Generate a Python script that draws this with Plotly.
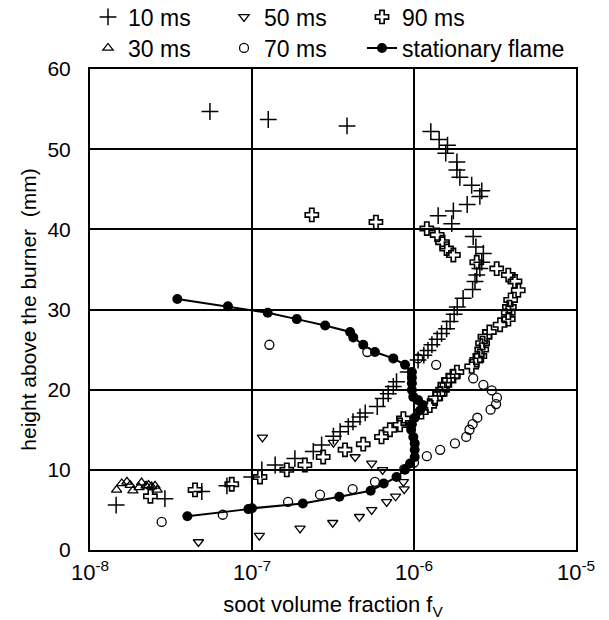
import plotly.graph_objects as go

# ---- data (soot volume fraction, height above burner in mm) ----
fv_10 = [1.45e-8, 2.9e-8, 4.9e-8, 7.0e-8, 9.95e-8, 1.15e-7, 1.39e-7, 1.84e-7, 2.39e-7, 2.69e-7,
         3.18e-7, 3.5e-7, 3.93e-7, 4.2e-7, 4.64e-7, 5.0e-7, 5.93e-7, 6.46e-7, 6.93e-7, 7.45e-7,
         7.8e-7, 9.2e-7, 1.06e-6, 1.15e-6, 1.22e-6, 1.29e-6, 1.39e-6, 1.48e-6, 1.59e-6, 1.67e-6,
         1.77e-6, 1.85e-6, 2.01e-6, 2.3e-6, 2.38e-6, 2.44e-6, 2.55e-6, 2.62e-6, 2.68e-6, 2.41e-6,
         2.32e-6, 1.71e-6, 1.41e-6, 1.75e-6, 2.13e-6, 2.55e-6, 2.62e-6, 2.27e-6, 1.92e-6, 1.84e-6,
         1.84e-6, 1.57e-6, 1.61e-6, 1.43e-6, 1.27e-6, 3.86e-7, 1.26e-7, 5.5e-8]
h_10 = [5.6, 6.4, 7.3, 8.0, 9.1, 10.0, 10.6, 11.4, 12.3, 13.1,
        14.2, 14.75, 15.4, 16.0, 16.6, 17.1, 17.9, 18.9, 19.5, 20.4,
        21.0, 22.2, 23.7, 24.3, 24.9, 25.6, 26.3, 27.0, 27.6, 28.5,
        29.4, 30.3, 31.4, 32.5, 33.5, 34.3, 35.1, 35.9, 37.0, 37.8,
        39.1, 40.7, 41.7, 42.3, 43.1, 44.1, 44.8, 45.5, 46.5, 47.4,
        48.4, 49.5, 50.5, 51.2, 52.2, 52.9, 53.7, 54.7]

fv_30 = [1.46e-8, 1.57e-8, 1.69e-8, 1.77e-8, 1.84e-8, 2.01e-8, 2.08e-8, 2.22e-8, 2.3e-8, 2.4e-8, 2.52e-8, 2.6e-8]
h_30 = [7.5, 8.3, 8.5, 8.1, 7.4, 7.8, 8.4, 8.0, 8.1, 7.9, 8.0, 7.5]

fv_50 = [4.67e-8, 1.11e-7, 1.98e-7, 3.15e-7, 4.6e-7, 5.48e-7, 6.78e-7, 7.7e-7, 8.7e-7, 8.6e-7,
         6.4e-7, 5.48e-7, 4.33e-7, 3.18e-7, 1.16e-7]
h_50 = [1.0, 1.8, 2.7, 3.4, 4.15, 5.0, 6.0, 6.7, 7.6, 8.5,
        10.0, 10.8, 11.6, 13.4, 14.05]

fv_70 = [2.77e-8, 6.6e-8, 1.67e-7, 2.63e-7, 4.18e-7, 5.74e-7, 8.7e-7, 1.0e-6, 1.2e-6, 1.45e-6,
         1.79e-6, 2.1e-6, 2.2e-6, 2.3e-6, 2.46e-6, 2.97e-6, 3.21e-6, 3.25e-6, 3.02e-6, 2.68e-6,
         2.32e-6, 1.37e-6, 1.06e-6, 5.15e-7, 1.28e-7]
h_70 = [3.5, 4.4, 6.0, 6.9, 7.6, 8.5, 10.1, 10.9, 11.7, 12.5,
        13.3, 14.1, 15.0, 15.7, 16.5, 17.5, 18.2, 19.0, 19.9, 20.6,
        21.4, 23.1, 23.9, 24.7, 25.6]

fv_90 = [2.36e-8, 4.45e-8, 7.5e-8, 1.12e-7, 1.64e-7, 2.12e-7, 2.75e-7, 3.75e-7, 4.86e-7, 6.3e-7,
         7.1e-7, 8.2e-7, 8.6e-7, 1.11e-6, 1.25e-6, 1.35e-6, 1.45e-6, 1.5e-6, 1.55e-6, 1.63e-6,
         1.75e-6, 1.84e-6, 2.27e-6, 2.44e-6, 2.55e-6, 2.62e-6, 2.65e-6, 2.74e-6, 2.92e-6, 3.4e-6,
         3.82e-6, 3.82e-6, 3.88e-6, 3.95e-6, 4.4e-6, 4.2e-6, 3.82e-6, 3.24e-6, 2.44e-6, 1.75e-6,
         1.59e-6, 1.5e-6, 1.39e-6, 1.2e-6, 5.82e-7, 2.34e-7]
h_90 = [6.7, 7.5, 8.2, 9.1, 10.0, 10.6, 11.6, 12.5, 13.2, 14.1,
        15.0, 15.6, 16.4, 17.2, 18.0, 18.9, 19.5, 20.0, 20.6, 21.2,
        21.7, 22.2, 22.9, 23.7, 24.2, 25.0, 25.8, 26.6, 27.2, 28.1,
        28.8, 29.6, 30.3, 31.2, 32.4, 33.5, 34.3, 35.1, 35.9, 36.8,
        37.6, 38.4, 39.3, 40.1, 40.9, 41.8]

fv_st = [3.46e-8, 7.1e-8, 1.25e-7, 1.89e-7, 2.83e-7, 4.03e-7, 4.22e-7, 4.86e-7, 5.74e-7, 7.45e-7,
         8.8e-7, 9.7e-7, 9.7e-7, 9.7e-7, 9.7e-7, 9.9e-7, 1.06e-6, 1.13e-6, 1.09e-6, 1.01e-6,
         9.7e-7, 9.6e-7, 9.9e-7, 1.01e-6, 1.01e-6, 1.01e-6, 9.45e-7, 8.8e-7, 7.8e-7, 6.5e-7,
         5.4e-7, 3.46e-7, 2.06e-7, 1.0e-7, 9.5e-8, 3.99e-8]
h_st = [31.3, 30.4, 29.6, 28.8, 28.0, 27.2, 26.5, 25.6, 24.7, 23.9,
        23.1, 22.2, 21.5, 20.8, 19.95, 19.1, 18.7, 18.1, 17.4, 16.5,
        15.7, 15.0, 14.1, 13.3, 12.5, 11.6, 10.8, 10.0, 9.1, 8.3,
        7.4, 6.65, 5.8, 5.2, 5.1, 4.2]

x_tickvals = [1e-8, 1e-7, 1e-6, 1e-5]
x_ticktext = ["10<sup>-8</sup>", "10<sup>-7</sup>", "10<sup>-6</sup>", "10<sup>-5</sup>"]
y_tickvals = [0, 10, 20, 30, 40, 50, 60]

FONT = "Liberation Sans, Arial, sans-serif"
K = "black"

fig = go.Figure()

def mk(name, x, y, symbol, size, lw, legend):
    fig.add_trace(go.Scatter(
        x=x, y=y, mode="markers", name=name, legend=legend,
        marker=dict(symbol=symbol, size=size, color=K,
                    line=dict(color=K, width=lw)),
    ))

mk("10 ms", fv_10, h_10, "cross-thin", 12, 1.5, "legend")
mk("50 ms", fv_50, h_50, "triangle-down-open", 9, 1.3, "legend2")
mk("90 ms", fv_90, h_90, "cross-open", 11, 1.6, "legend3")
mk("30 ms", fv_30, h_30, "triangle-up-open", 9, 1.3, "legend4")
mk("70 ms", fv_70, h_70, "circle-open", 9, 1.3, "legend5")
fig.add_trace(go.Scatter(
    x=fv_st, y=h_st, mode="lines+markers", name="stationary flame", legend="legend6",
    line=dict(color=K, width=2),
    marker=dict(symbol="circle", size=10, color=K),
))

PW = 486.0
PH = 481.0
def lx(px):
    return (px - 90) / PW
def ly(py):
    return 1 + (69 - py) / PH

leg_common = dict(orientation="v", xanchor="left", yanchor="middle",
                  font=dict(family=FONT, size=23, color=K),
                  bgcolor="rgba(0,0,0,0)", itemclick=False, borderwidth=0)

fig.update_layout(
    width=609, height=620,
    margin=dict(l=90, r=33, t=69, b=70, autoexpand=False),
    paper_bgcolor="white", plot_bgcolor="white",
    font=dict(family=FONT, size=20, color=K),
    showlegend=True,
    legend=dict(x=lx(88), y=ly(17), **leg_common),
    legend2=dict(x=lx(224), y=ly(17), **leg_common),
    legend3=dict(x=lx(362), y=ly(17), **leg_common),
    legend4=dict(x=lx(88), y=ly(48), **leg_common),
    legend5=dict(x=lx(224), y=ly(48), **leg_common),
    legend6=dict(x=lx(362), y=ly(48), **leg_common),
    xaxis=dict(
        type="log", range=[-8, -5],
        tickvals=x_tickvals, ticktext=x_ticktext,
        showgrid=True, gridcolor=K, gridwidth=1.5,
        showline=True, linecolor=K, linewidth=2, mirror=True,
        ticks="", ticklabelstandoff=2,
        tickfont=dict(family=FONT, size=22, color=K),
        zeroline=False,
        title=dict(text="soot volume fraction f<sub>V</sub>", standoff=16,
                   font=dict(family=FONT, size=22, color=K)),
    ),
    yaxis=dict(
        range=[0, 60], tickvals=y_tickvals,
        showgrid=True, gridcolor=K, gridwidth=1.5,
        showline=True, linecolor=K, linewidth=2, mirror=True,
        ticks="", ticklabelstandoff=13,
        tickfont=dict(family=FONT, size=21, color=K),
        zeroline=False,
        title=dict(text="height above the burner  (mm)", standoff=5,
                   font=dict(family=FONT, size=21, color=K)),
    ),
)

fig.write_html("out.html")
